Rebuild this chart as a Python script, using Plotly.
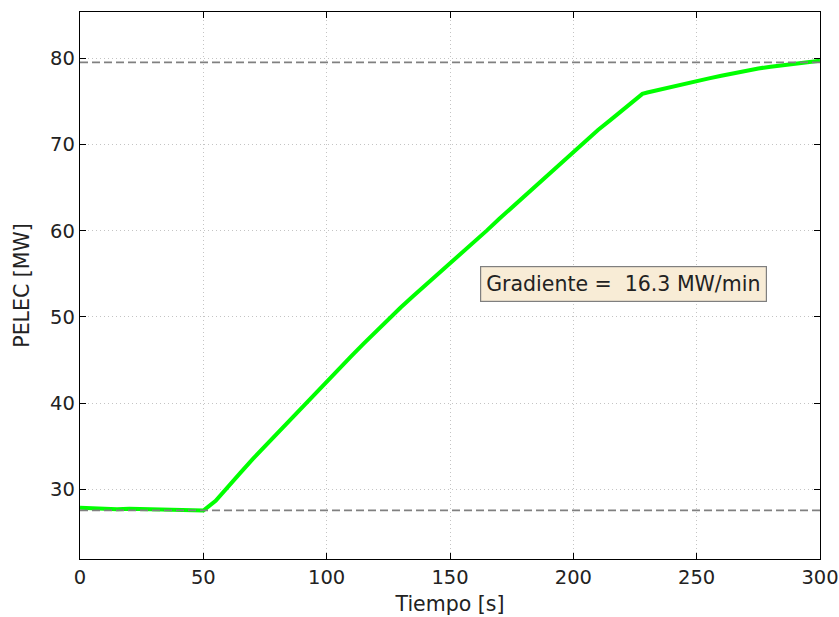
import plotly.graph_objects as go

# Time [s]
tiempo = [0, 5, 10, 15, 20, 25, 30, 35, 40, 45, 50, 55, 60, 65, 70, 75, 80, 85, 90, 95,
          100, 105, 110, 115, 120, 125, 130, 135, 140, 145, 150, 155, 160, 165, 170, 175,
          180, 185, 190, 195, 200, 205, 210, 215, 220, 225, 228, 230, 235, 240, 245, 250,
          255, 260, 265, 270, 275, 280, 285, 290, 295, 300]
# Electrical power [MW]
pelec = [27.85, 27.78, 27.76, 27.68, 27.72, 27.69, 27.7, 27.71, 27.62, 27.56, 27.52, 28.65,
         30.35, 31.9, 33.5, 35.0, 36.6, 38.1, 39.6, 41.1,
         42.55, 44.0, 45.45, 46.9, 48.35, 49.8, 51.1, 52.4, 53.65, 54.95, 56.25, 57.5,
         58.8, 60.05, 61.4, 62.7, 64.0, 65.3, 66.65, 67.95, 69.25, 70.55, 71.7, 72.85,
         74.05, 75.2, 75.9, 76.05, 76.4, 76.75, 77.1, 77.4, 77.7, 78.0, 78.3, 78.6,
         78.85, 79.05, 79.25, 79.45, 79.6, 79.75]

nivel_inicial = 27.55
nivel_final = 79.55
gradiente_texto = "Gradiente =  16.3 MW/min"

x_range = [0, 300]
y_range = [21.9, 85.4]
x_ticks = [0, 50, 100, 150, 200, 250, 300]
y_ticks = [30, 40, 50, 60, 70, 80]

FONT = "DejaVu Sans"
TXT = "#222222"

fig = go.Figure()
fig.add_trace(go.Scatter(x=tiempo, y=pelec, mode="lines",
                         line=dict(color="#00ff00", width=4), showlegend=False))
fig.add_trace(go.Scatter(x=[x_range[0], x_range[1]], y=[nivel_final, nivel_final], mode="lines",
                         line=dict(color="#808080", width=1.6, dash="8px,4px"), showlegend=False))
fig.add_trace(go.Scatter(x=[x_range[0], x_range[1]], y=[nivel_inicial, nivel_inicial], mode="lines",
                         line=dict(color="#808080", width=1.6, dash="8px,4px"), showlegend=False))

fig.add_annotation(x=162.2, y=53.8, xref="x", yref="y", text=gradiente_texto,
                   showarrow=False, xanchor="left", yanchor="middle",
                   font=dict(family=FONT, size=20.5, color=TXT),
                   bgcolor="#f8ecd6", bordercolor="#7f7f7f", borderwidth=1.2, borderpad=5)

axis_common = dict(showline=True, linecolor="black", linewidth=1.3, mirror="ticks",
                   ticks="inside", ticklen=6, tickwidth=1.3, tickcolor="black",
                   showgrid=True, gridcolor="#c4c4c4", gridwidth=1, griddash="1px,3px",
                   zeroline=False, automargin=False,
                   tickfont=dict(family=FONT, size=19.5, color=TXT))

fig.update_xaxes(range=x_range, tickvals=x_ticks, **axis_common,
                 title=dict(text="Tiempo [s]", font=dict(family=FONT, size=20.5, color=TXT), standoff=9))
fig.update_yaxes(range=y_range, tickvals=y_ticks, **axis_common,
                 title=dict(text="PELEC [MW]", font=dict(family=FONT, size=20.5, color=TXT), standoff=14))

fig.update_layout(width=839, height=617, margin=dict(l=80, r=19, t=12, b=58),
                  plot_bgcolor="white", paper_bgcolor="white",
                  font=dict(family=FONT, color=TXT))
fig.write_html("out.html")
